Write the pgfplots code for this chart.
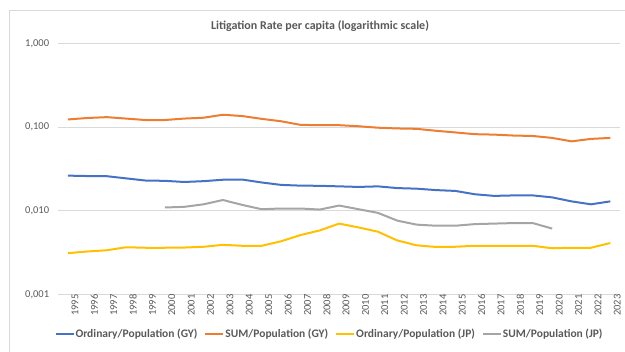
\documentclass[border=0pt]{standalone}
\usepackage{pgfplots}
\pgfplotsset{compat=1.18}
\usepackage{fontspec}
\setmainfont{Carlito}
\definecolor{cblue}{HTML}{4472C4}
\definecolor{corange}{HTML}{ED7D31}
\definecolor{cgray}{HTML}{A5A5A5}
\definecolor{cyellow}{HTML}{FFC000}
\definecolor{gridc}{HTML}{D9D9D9}
\definecolor{txt}{HTML}{595959}
\begin{document}
\begin{tikzpicture}[x=1pt,y=1pt]
\path[use as bounding box] (0,0) rectangle (625,352);
\draw[gridc, line width=0.75pt] (9,-10) rectangle (640,342);
\node[font=\fontsize{12}{14}\selectfont\bfseries, text=txt] at (320,326) {Litigation Rate per capita (logarithmic scale)};
\begin{axis}[
  at={(58.3pt,57.7pt)}, anchor=south west,
  scale only axis, width=561.7pt, height=251pt,
  ymode=log, ymin=0.001, ymax=1,
  xmin=1994.5, xmax=2023.5,
  ytick={0.001,0.01,0.1,1},
  yticklabels={{0,001},{0,010},{0,100},{1,000}},
  xtick={1995,...,2023},
  xticklabels={1995,1996,1997,1998,1999,2000,2001,2002,2003,2004,2005,2006,2007,2008,2009,2010,2011,2012,2013,2014,2015,2016,2017,2018,2019,2020,2021,2022,2023},
  x tick label style={rotate=90, anchor=east, font=\fontsize{10.5}{12}\selectfont, text=txt, inner sep=0pt, yshift=-7pt},
  y tick label style={anchor=east, font=\fontsize{10.5}{12}\selectfont, text=txt, inner sep=0pt, xshift=-9pt},
  ymajorgrids, major grid style={gridc, line width=0.75pt},
  axis line style={draw=none},
  major tick length=0pt, minor tick length=0pt,
  yminorgrids=false,
  legend columns=-1,
  legend style={at={(0.482,-0.158)}, anchor=center, draw=none, fill=none,
    font=\fontsize{11.5}{13}\selectfont\bfseries, text=txt,
    nodes={inner sep=1pt},
    /tikz/every even column/.append style={column sep=6pt}},
  legend image code/.code={\draw[#1] (0pt,0pt) -- (18pt,0pt);},
  every axis plot/.append style={line width=2pt, line join=round},
]
\addplot[cblue] coordinates {
(1995,0.0262)(1996,0.0259)(1997,0.0258)(1998,0.0243)(1999,0.0229)(2000,0.0227)(2001,0.0220)(2002,0.0225)(2003,0.0234)(2004,0.0235)(2005,0.0217)(2006,0.0203)(2007,0.0199)(2008,0.0198)(2009,0.0195)(2010,0.0192)(2011,0.0195)(2012,0.0186)(2013,0.0183)(2014,0.0176)(2015,0.0172)(2016,0.0157)(2017,0.0150)(2018,0.0152)(2019,0.0152)(2020,0.0144)(2021,0.0129)(2022,0.0119)(2023,0.0129)};
\addlegendentry{Ordinary/Population (GY)}
\addplot[corange] coordinates {
(1995,0.123)(1996,0.128)(1997,0.131)(1998,0.126)(1999,0.121)(2000,0.121)(2001,0.126)(2002,0.129)(2003,0.140)(2004,0.135)(2005,0.125)(2006,0.117)(2007,0.106)(2008,0.105)(2009,0.105)(2010,0.102)(2011,0.098)(2012,0.096)(2013,0.095)(2014,0.090)(2015,0.086)(2016,0.082)(2017,0.081)(2018,0.079)(2019,0.078)(2020,0.074)(2021,0.0673)(2022,0.072)(2023,0.074)};
\addlegendentry{SUM/Population (GY)}
\addplot[cyellow] coordinates {
(1995,0.0031)(1996,0.00325)(1997,0.00336)(1998,0.00365)(1999,0.0036)(2000,0.0036)(2001,0.00362)(2002,0.0037)(2003,0.0039)(2004,0.0038)(2005,0.0038)(2006,0.0043)(2007,0.0051)(2008,0.0058)(2009,0.0070)(2010,0.0063)(2011,0.0056)(2012,0.0044)(2013,0.00385)(2014,0.00368)(2015,0.0037)(2016,0.0038)(2017,0.0038)(2018,0.0038)(2019,0.0038)(2020,0.00355)(2021,0.0036)(2022,0.0036)(2023,0.0041)};
\addlegendentry{Ordinary/Population (JP)}
\addplot[cgray] coordinates {
(2000,0.0109)(2001,0.0111)(2002,0.0119)(2003,0.0134)(2004,0.0117)(2005,0.0104)(2006,0.0106)(2007,0.0106)(2008,0.0103)(2009,0.0115)(2010,0.0104)(2011,0.0094)(2012,0.0076)(2013,0.0068)(2014,0.0066)(2015,0.0066)(2016,0.0069)(2017,0.0070)(2018,0.0071)(2019,0.0071)(2020,0.0061)};
\addlegendentry{SUM/Population (JP)}
\end{axis}
\end{tikzpicture}
\end{document}
